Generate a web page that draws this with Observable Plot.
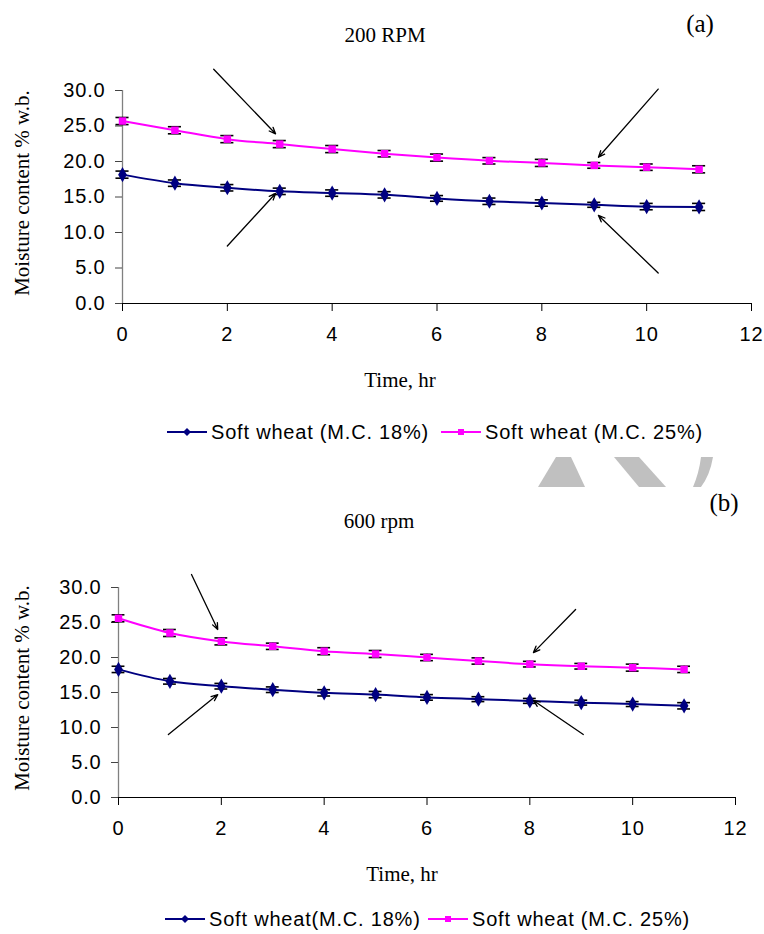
<!DOCTYPE html>
<html><head><meta charset="utf-8">
<script src="https://cdn.jsdelivr.net/npm/d3@7"></script>
<script src="https://cdn.jsdelivr.net/npm/@observablehq/plot@0.6"></script>
<style>
body{margin:0;background:#fff;}
#wrap{position:relative;width:764px;height:934px;overflow:hidden;background:#fff;}
.panel{position:absolute;left:0;}
.panel g[aria-label="y-axis tick label"], .panel g[aria-label="x-axis tick label"]{letter-spacing:0.8px;}
.leg{position:absolute;height:24px;display:flex;align-items:center;font-family:"Liberation Sans",Arial,sans-serif;font-size:20px;letter-spacing:0.8px;color:#000;white-space:nowrap;}
.leg svg{margin-right:4px;}
.ylab{position:absolute;font-family:"Liberation Serif","Times New Roman",serif;font-size:21px;color:#000;white-space:nowrap;transform:translate(-50%,-50%) rotate(-90deg);line-height:1;}
</style></head><body><div id="wrap"></div>
<script>
// ---- data ----
const hours = [0,1,2,3,4,5,6,7,8,9,10,11];
const xTicks = [0,2,4,6,8,10,12];
const yTicks = [0,5,10,15,20,25,30];

// (a) 200 RPM
const a_mc18 = [18.15,16.95,16.3,15.8,15.55,15.3,14.8,14.4,14.15,13.9,13.65,13.6];
const a_err18 = [0.5,0.45,0.45,0.45,0.45,0.45,0.4,0.45,0.45,0.35,0.45,0.5];
const a_mc25 = [25.7,24.4,23.15,22.45,21.75,21.1,20.55,20.1,19.8,19.45,19.2,18.9];
const a_err25 = [0.5,0.5,0.5,0.5,0.5,0.45,0.5,0.45,0.5,0.4,0.45,0.5];
const a_arrowX1 = [1.74,10.22,2.0,10.22];
const a_arrowY1 = [33.0,30.2,8.1,4.3];
const a_arrowX2 = [2.92,9.08,2.92,9.08];
const a_arrowY2 = [23.9,20.6,15.5,12.4];

// (b) 600 rpm
const b_mc18 = [18.3,16.6,15.9,15.4,14.95,14.7,14.3,14.05,13.8,13.55,13.35,13.1];
const b_err18 = [0.45,0.4,0.4,0.4,0.45,0.45,0.4,0.35,0.35,0.35,0.35,0.45];
const b_mc25 = [25.6,23.5,22.3,21.6,20.9,20.5,20.0,19.5,19.05,18.75,18.55,18.3];
const b_err25 = [0.5,0.5,0.5,0.45,0.5,0.5,0.45,0.45,0.4,0.4,0.5,0.45];
const b_arrowX1 = [1.42,8.89,0.97,9.04];
const b_arrowY1 = [31.86,26.86,9.0,9.0];
const b_arrowX2 = [1.93,8.07,1.93,8.07];
const b_arrowY2 = [24.0,20.7,14.7,13.86];

const labels = {
  a: {title:"200 RPM", letter:"(a)", legend18:"Soft wheat (M.C. 18%)", legend25:"Soft wheat (M.C. 25%)"},
  b: {title:"600 rpm", letter:"(b)", legend18:"Soft wheat(M.C. 18%)", legend25:"Soft wheat (M.C. 25%)"}
};
const xLabel = "Time, hr";
const yLabel = "Moisture content % w.b.";
const BLUE = "#000080", PINK = "#ff00ff";
const SERIF = "Liberation Serif", SANS = "Liberation Sans";

function rows(v, e){ return hours.map((t,i)=>({t, v:v[i], e:e[i]})); }
function arrows(x1,y1,x2,y2){ return x1.map((_,i)=>({x1:x1[i],y1:y1[i],x2:x2[i],y2:y2[i]})); }

function panel(o){
  const s18 = rows(o.mc18,o.err18), s25 = rows(o.mc25,o.err25);
  const capW = 0.125;
  const errMarks = (s)=>[
    Plot.ruleX(s,{x:"t", y1:d=>d.v-d.e, y2:d=>d.v+d.e, stroke:"#000", strokeWidth:1.3}),
    Plot.ruleY(s,{y:d=>d.v+d.e, x1:d=>d.t-capW, x2:d=>d.t+capW, stroke:"#000", strokeWidth:1.6}),
    Plot.ruleY(s,{y:d=>d.v-d.e, x1:d=>d.t-capW, x2:d=>d.t+capW, stroke:"#000", strokeWidth:1.6})
  ];
  const p = Plot.plot({
    width:764, height:o.height,
    marginLeft:o.mL, marginRight:o.mR, marginTop:o.mT, marginBottom:o.mB,
    x:{domain:[0,12]}, y:{domain:[0,30]},
    style:{background:"transparent", overflow:"visible"},
    marks:[
      Plot.ruleX([0],{stroke:"#808080", strokeWidth:1.3}),
      Plot.ruleY([0],{stroke:"#000", strokeWidth:1.2}),
      Plot.axisY({ticks:yTicks, tickSize:7, tickPadding:10, tickFormat:d=>d.toFixed(1), fontFamily:SANS, fontSize:20, label:null, stroke:"#444"}),
      Plot.axisX({ticks:xTicks, tickSize:8, tickPadding:15, tickFormat:d=>String(d), fontFamily:SANS, fontSize:20, label:null}),
      Plot.line(s18,{x:"t", y:"v", stroke:BLUE, strokeWidth:2, curve:"catmull-rom"}),
      Plot.line(s25,{x:"t", y:"v", stroke:PINK, strokeWidth:2, curve:"catmull-rom"}),
      ...errMarks(s18), ...errMarks(s25),
      Plot.dot(s18,{x:"t", y:"v", symbol:"diamond", fill:BLUE, r:4.6}),
      Plot.dot(s25,{x:"t", y:"v", symbol:"square", fill:PINK, r:4.2}),
      Plot.arrow(o.arrows,{x1:"x1", y1:"y1", x2:"x2", y2:"y2", stroke:"#000", strokeWidth:1.3, headLength:8, headAngle:45}),
      Plot.text([o.lab.title],{frameAnchor:"top", dx:o.titleDx, dy:o.titleDy, fontFamily:SERIF, fontSize:21, lineAnchor:"middle"}),
      Plot.text([o.lab.letter],{frameAnchor:"top", dx:o.letDx, dy:o.letDy, fontFamily:SERIF, fontSize:25, lineAnchor:"middle"}),
      Plot.text([xLabel],{frameAnchor:"bottom", dx:o.xlDx, dy:o.xlDy, fontFamily:SERIF, fontSize:21, lineAnchor:"middle"})
    ]
  });
  p.classList.add("panel");
  p.style.top = o.top + "px";
  return p;
}

function swatch(color, kind){
  const ns = "http://www.w3.org/2000/svg";
  const svg = document.createElementNS(ns,"svg");
  svg.setAttribute("width",40); svg.setAttribute("height",14);
  const l = document.createElementNS(ns,"line");
  l.setAttribute("x1",0); l.setAttribute("x2",40); l.setAttribute("y1",7); l.setAttribute("y2",7);
  l.setAttribute("stroke",color); l.setAttribute("stroke-width",2);
  svg.appendChild(l);
  const m = document.createElementNS(ns,"path");
  m.setAttribute("d", kind==="diamond" ? "M20,3L24,7L20,11L16,7Z" : "M17,4H23V10H17Z");
  m.setAttribute("fill",color);
  svg.appendChild(m);
  return svg;
}
function legendItem(left, top, color, kind, text){
  const d = document.createElement("div");
  d.className = "leg"; d.style.left = left+"px"; d.style.top = top+"px";
  d.appendChild(swatch(color,kind));
  const s = document.createElement("span"); s.textContent = text; d.appendChild(s);
  return d;
}
function yTitle(cx, cy){
  const d = document.createElement("div");
  d.className = "ylab"; d.style.left = cx+"px"; d.style.top = cy+"px";
  d.textContent = yLabel;
  return d;
}

const wrap = document.getElementById("wrap");
wrap.appendChild(panel({
  top:0, height:410, mL:122, mR:13, mT:90, mB:107,
  mc18:a_mc18, err18:a_err18, mc25:a_mc25, err25:a_err25,
  arrows:arrows(a_arrowX1,a_arrowY1,a_arrowX2,a_arrowY2), lab:labels.a,
  titleDx:-52, titleDy:-55, letDx:263, letDy:-67, xlDx:-37, xlDy:77
}));
wrap.appendChild(panel({
  top:488, height:402, mL:118, mR:29, mT:99, mB:93,
  mc18:b_mc18, err18:b_err18, mc25:b_mc25, err25:b_err25,
  arrows:arrows(b_arrowX1,b_arrowY1,b_arrowX2,b_arrowY2), lab:labels.b,
  titleDx:-48, titleDy:-66, letDx:297, letDy:-85, xlDx:-25, xlDy:77
}));
wrap.appendChild(yTitle(22, 193));
wrap.appendChild(yTitle(22, 688));
wrap.appendChild(legendItem(167, 420, BLUE, "diamond", labels.a.legend18));
wrap.appendChild(legendItem(441, 420, PINK, "square", labels.a.legend25));
wrap.appendChild(legendItem(165, 907, BLUE, "diamond", labels.b.legend18));
wrap.appendChild(legendItem(428, 907, PINK, "square", labels.b.legend25));

// grey watermark fragments between the panels
const deco = document.createElementNS("http://www.w3.org/2000/svg","svg");
deco.setAttribute("width",764); deco.setAttribute("height",40);
deco.style.position="absolute"; deco.style.left="0px"; deco.style.top="455px";
deco.innerHTML = '<path fill="#c0c0c0" d="M556,2L571,2L585,32L538,32Z"/>'+
  '<path fill="#c0c0c0" d="M614,2L639,2L666,32L639,32Z"/>'+
  '<path fill="#c0c0c0" d="M701,2L713,2Q710,20 701,32L693,32Q699,18 701,2Z"/>';
wrap.appendChild(deco);
</script></body></html>
